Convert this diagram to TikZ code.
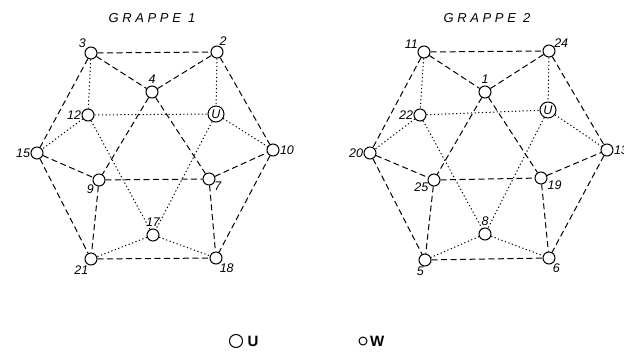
\documentclass[tikz,border=0pt]{standalone}
\usepackage{fontspec}
\setmainfont{Liberation Sans}
\usepackage{tikz}
\usetikzlibrary{positioning}
\tikzstyle{every node}=[inner sep=0pt, font=\fontsize{12.5}{12.5}\selectfont\itshape]
\tikzstyle{vtx}=[circle, draw, fill=white, minimum size=12pt, line width=1pt]
\tikzstyle{uvtx}=[vtx, minimum size=16pt]
\tikzset{dsh/.style={dash pattern=on 6pt off 3.5pt},
  dot/.style={dash pattern=on 1.2pt off 2.5pt},
  ttl/.style={font=\fontsize{13}{13}\selectfont\itshape\addfontfeature{LetterSpace=28}},
  lgd/.style={font=\fontsize{15}{15}\selectfont\bfseries}}

\begin{document}
\begin{tikzpicture}[x=1pt, y=-1pt, line width=1pt]
		\useasboundingbox (0,0) rectangle (624,352);
		% grappe 1
		\node[ttl] (t1) at (152,18) {GRAPPE 1};
		\node[vtx, label={[label distance=0pt]135:3}] (n3) at (91,53) {};
		\node[vtx, label={[label distance=0pt]70:2}] (n2) at (217,52) {};
		\node[vtx, label={[label distance=1pt]90:4}] (n4) at (152,92) {};
		\node[vtx, label={[label distance=0pt]180:12}] (n12) at (88,115) {};
		\node[uvtx] (u1) at (216,114) {U};
		\node[vtx, label={[label distance=0pt]180:15}] (n15) at (37,153) {};
		\node[vtx, label={[label distance=0pt]0:10}] (n10) at (273,150) {};
		\node[vtx, label={[label distance=0pt]225:9}] (n9) at (99,180) {};
		\node[vtx, label={[label distance=-1pt]-30:7}] (n7) at (209,179) {};
		\node[vtx, label={[label distance=1pt]90:17}] (n17) at (153,235) {};
		\node[vtx, label={[label distance=0pt]-110:21}] (n21) at (91,259) {};
		\node[vtx, label={[label distance=0pt]-60:18}] (n18) at (216,258) {};
		\draw[dsh] (n3) -- (n2);
		\draw[dsh] (n3) -- (n4);
		\draw[dsh] (n4) -- (n2);
		\draw[dsh] (n3) -- (n15);
		\draw[dsh] (n2) -- (n10);
		\draw[dsh] (n15) -- (n9);
		\draw[dsh] (n9) -- (n7);
		\draw[dsh] (n7) -- (n10);
		\draw[dsh] (n15) -- (n21);
		\draw[dsh] (n10) -- (n18);
		\draw[dsh] (n9) -- (n21);
		\draw[dsh] (n7) -- (n18);
		\draw[dsh] (n21) -- (n18);
		\draw[dsh] (n4) -- (n9);
		\draw[dsh] (n4) -- (n7);
		\draw[dot] (n3) -- (n12);
		\draw[dot] (n2) -- (u1);
		\draw[dot] (n12) -- (u1);
		\draw[dot] (n12) -- (n15);
		\draw[dot] (u1) -- (n10);
		\draw[dot] (n12) -- (n17);
		\draw[dot] (u1) -- (n17);
		\draw[dot] (n17) -- (n21);
		\draw[dot] (n17) -- (n18);
		% grappe 2
		\node[ttl] (t2) at (487,18) {GRAPPE 2};
		\node[vtx, label={[label distance=0pt]150:11}] (n11) at (424,52) {};
		\node[vtx, label={[label distance=-1pt]30:24}] (n24) at (549,51) {};
		\node[vtx, label={[label distance=1pt]90:1}] (n1) at (485,92) {};
		\node[vtx, label={[label distance=0pt]180:22}] (n22) at (420,115) {};
		\node[uvtx] (u2) at (548,110) {U};
		\node[vtx, label={[label distance=0pt]180:20}] (n20) at (370,153) {};
		\node[vtx, label={[label distance=0pt]0:13}] (n13) at (607,150) {};
		\node[vtx, label={[label distance=0pt]-20:19}] (n19) at (541,178) {};
		\node[vtx, label={[label distance=-1pt]200:25}] (n25) at (434,180) {};
		\node[vtx, label={[label distance=1pt]90:8}] (n8) at (485,234) {};
		\node[vtx, label={[label distance=0pt]-95:5}] (n5) at (425,260) {};
		\node[vtx, label={[label distance=0pt]-60:6}] (n6) at (549,258) {};
		\draw[dsh] (n11) -- (n24);
		\draw[dsh] (n11) -- (n1);
		\draw[dsh] (n1) -- (n24);
		\draw[dsh] (n11) -- (n20);
		\draw[dsh] (n24) -- (n13);
		\draw[dsh] (n20) -- (n25);
		\draw[dsh] (n25) -- (n19);
		\draw[dsh] (n19) -- (n13);
		\draw[dsh] (n20) -- (n5);
		\draw[dsh] (n13) -- (n6);
		\draw[dsh] (n25) -- (n5);
		\draw[dsh] (n19) -- (n6);
		\draw[dsh] (n5) -- (n6);
		\draw[dsh] (n1) -- (n25);
		\draw[dsh] (n1) -- (n19);
		\draw[dot] (n11) -- (n22);
		\draw[dot] (n24) -- (u2);
		\draw[dot] (n22) -- (u2);
		\draw[dot] (n22) -- (n20);
		\draw[dot] (u2) -- (n13);
		\draw[dot] (n22) -- (n8);
		\draw[dot] (u2) -- (n8);
		\draw[dot] (n8) -- (n5);
		\draw[dot] (n8) -- (n6);
		% legende
		\node[circle, draw, minimum size=13pt] (lu) at (236,341) {};
		\node[lgd, right=4pt of lu] (tu) {U};
		\node[circle, draw, minimum size=8pt] (lw) at (363,341) {};
		\node[lgd, right=2pt of lw] (tw) {W};
\end{tikzpicture}
\end{document}
